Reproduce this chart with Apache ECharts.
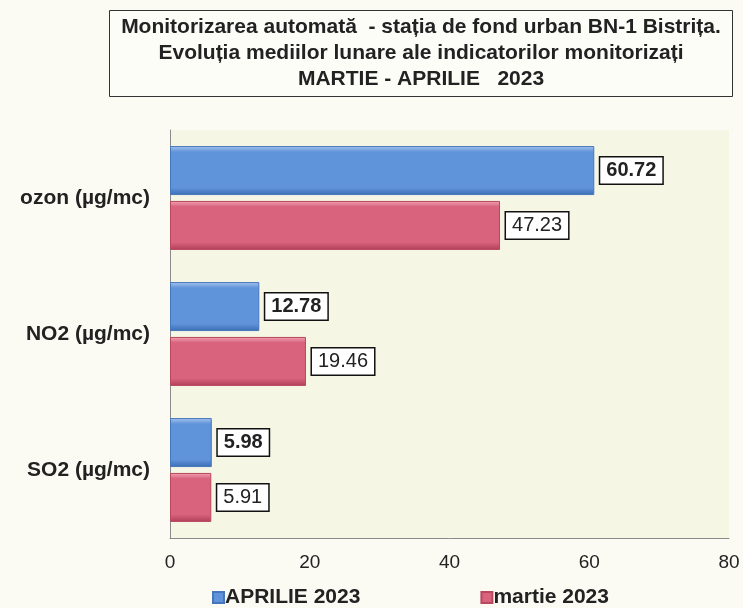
<!DOCTYPE html>
<html>
<head>
<meta charset="utf-8">
<script src="https://cdn.jsdelivr.net/npm/echarts@6/dist/echarts.min.js"></script>
<style>
  html, body { margin: 0; padding: 0; background: #fbfbf4; }
  #chart { width: 743px; height: 608px; }
</style>
</head>
<body>
<div id="chart"></div>
<script>
// date
const categories = ["ozon (µg/mc)", "NO2 (µg/mc)", "SO2 (µg/mc)"];
const aprilie = [60.72, 12.78, 5.98];
const martie = [47.23, 19.46, 5.91];
const xTicks = [0, 20, 40, 60, 80];

const chart = echarts.init(document.getElementById("chart"));

function grad(light, mid, dark) {
  return new echarts.graphic.LinearGradient(0, 0, 0, 1, [
    { offset: 0, color: light },
    { offset: 0.12, color: mid },
    { offset: 0.85, color: mid },
    { offset: 1, color: dark }
  ]);
}

const labelBox = (bold) => ({
  show: true,
  position: "right",
  distance: 6,
  color: "#222",
  fontSize: 20,
  fontWeight: bold ? "bold" : "normal",
  fontFamily: "Liberation Sans, Arial, sans-serif",
  backgroundColor: "#ffffff",
  borderColor: "#111",
  borderWidth: 1.5,
  padding: [4, 6, 2, 6],
  formatter: (p) => p.value.toFixed(2)
});

chart.setOption({
  backgroundColor: "#fbfbf4",
  textStyle: { fontFamily: "Liberation Sans, Arial, sans-serif" },
  title: {
    text: "Monitorizarea automată  - stația de fond urban BN-1 Bistrița.\nEvoluția mediilor lunare ale indicatorilor monitorizați\nMARTIE - APRILIE   2023",
    left: 409,
    top: 10,
    textAlign: "center",
    borderColor: "#333",
    borderWidth: 1,
    backgroundColor: "#fdfdf8",
    padding: [4, 12, 5, 12],
    textStyle: {
      fontSize: 21,
      fontWeight: "bold",
      color: "#222",
      lineHeight: 26
    }
  },
  legend: {
    top: 582,
    left: 207,
    itemGap: 120,
    itemWidth: 11,
    itemHeight: 11,
    icon: "rect",
    textStyle: { fontSize: 21, fontWeight: "bold", color: "#222", padding: [0, 0, 0, -4] },
    data: ["APRILIE 2023", "martie 2023"]
  },
  grid: {
    left: 170,
    right: 14,
    top: 130,
    bottom: 70,
    show: true,
    backgroundColor: "#f5f6e4",
    borderWidth: 0
  },
  xAxis: {
    type: "value",
    min: 0,
    max: 80,
    interval: 20,
    axisLine: { show: true, lineStyle: { color: "#8a8a8a", width: 1 } },
    axisTick: { show: false },
    splitLine: { show: false },
    axisLabel: {
      color: "#222",
      fontSize: 19,
      margin: 15,
      formatter: (v) => (xTicks.indexOf(v) >= 0 ? String(v) : "")
    }
  },
  yAxis: {
    type: "category",
    inverse: true,
    data: categories,
    axisLine: { show: true, lineStyle: { color: "#8a8a8a", width: 1 } },
    axisTick: { show: false },
    axisLabel: { color: "#222", fontSize: 21, fontWeight: "bold", margin: 20 }
  },
  series: [
    {
      name: "APRILIE 2023",
      type: "bar",
      data: aprilie,
      barWidth: 49,
      barGap: "12%",
      itemStyle: {
        color: grad("#a9c8ef", "#5f93da", "#3b6db4"),
        borderColor: "#4876bd",
        borderWidth: 1
      },
      label: labelBox(true)
    },
    {
      name: "martie 2023",
      type: "bar",
      data: martie,
      barWidth: 49,
      itemStyle: {
        color: grad("#f0a5b5", "#d9627c", "#ad3f58"),
        borderColor: "#b9485f",
        borderWidth: 1
      },
      label: labelBox(false)
    }
  ]
});
</script>
</body>
</html>
